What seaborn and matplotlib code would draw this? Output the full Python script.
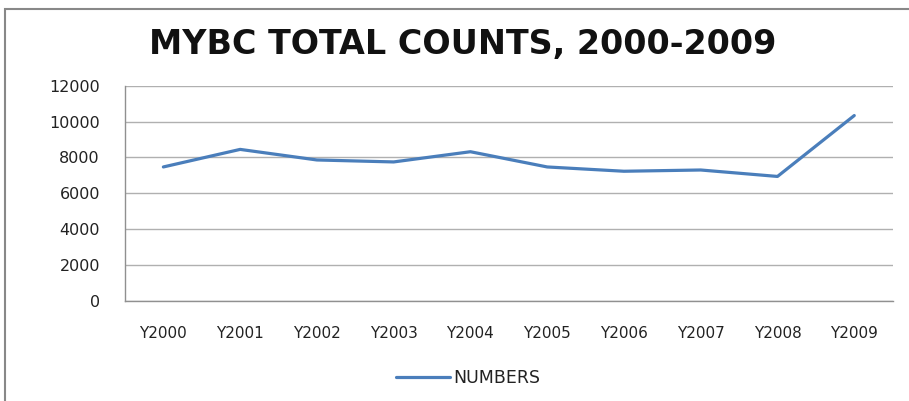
import matplotlib
matplotlib.use("Agg")
import matplotlib.pyplot as plt
import seaborn as sns
import pandas as pd
from matplotlib.patches import Rectangle

years = ["Y2000", "Y2001", "Y2002", "Y2003", "Y2004",
         "Y2005", "Y2006", "Y2007", "Y2008", "Y2009"]
numbers = [7470, 8450, 7860, 7750, 8320, 7470, 7230, 7300, 6940, 10340]
yticks = [0, 2000, 4000, 6000, 8000, 10000, 12000]

df = pd.DataFrame({"year": years, "NUMBERS": numbers})

sns.set_style("white")
plt.rcParams['font.family'] = ['DejaVu Sans']

fig = plt.figure(figsize=(9.09, 4.01), dpi=100)
ax = fig.add_axes([0.1375, 0.250, 0.8445, 0.536])

sns.lineplot(data=df, x="year", y="NUMBERS", sort=False, ax=ax,
             color="#4a7ebb", linewidth=2.3, label="NUMBERS")

ax.set_xlim(-0.5, 9.5)
ax.set_ylim(0, 12000)
ax.set_yticks(yticks)
ax.set_yticklabels([str(v) for v in yticks], fontsize=11.5, color="#222222")
ax.yaxis.grid(True, color="#b0b0b0", linewidth=1)
ax.set_axisbelow(True)

ax.set_xticks(range(len(years)))
ax.set_xticklabels(years, fontsize=11, color="#222222")
ax.set_xticks([i - 0.5 for i in range(len(years) + 1)], minor=True)
ax.tick_params(axis="x", which="major", length=0, pad=18)
ax.tick_params(axis="x", which="minor", length=5, color="#909090", direction="out")
ax.tick_params(axis="y", length=5, color="#909090", direction="out", pad=13)
ax.set_xlabel("")
ax.set_ylabel("")

for side in ["top", "right"]:
    ax.spines[side].set_visible(False)
for side in ["left", "bottom"]:
    ax.spines[side].set_color("#909090")
    ax.spines[side].set_linewidth(1)

fig.text(0.509, 0.889, "MYBC TOTAL COUNTS, 2000-2009", ha="center", va="center",
         fontsize=24, fontweight="bold", color="#111111",
         family=["Liberation Sans Narrow", "DejaVu Sans"])

leg = ax.legend(loc="center", bbox_to_anchor=(0.447, -0.36), frameon=False,
                fontsize=12.5, handlelength=3.1, handletextpad=0.2)
for t in leg.get_texts():
    t.set_color("#222222")

fig.patches.append(Rectangle((0.005, -0.1), 1.2, 1.078, transform=fig.transFigure,
                             fill=False, edgecolor="#888888", linewidth=1.5))

fig.savefig("out.png", dpi=100)
